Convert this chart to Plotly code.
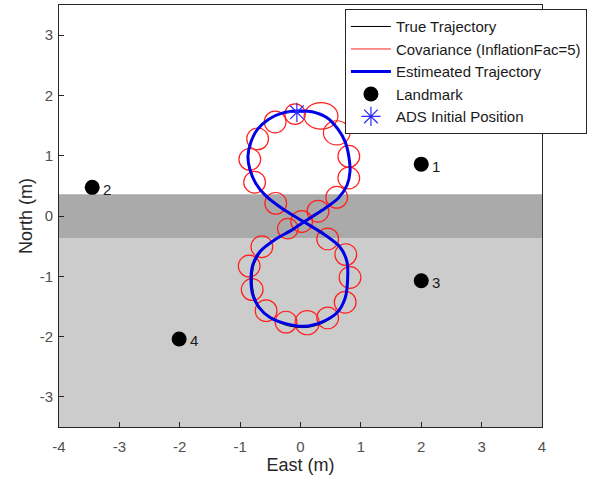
import plotly.graph_objects as go

# ---- data ----
est_x = [-0.06, 0.19, 0.44, 0.62, 0.74, 0.80, 0.82, 0.77, 0.62, 0.35, 0.07, -0.14, -0.42, -0.67,
         -0.79, -0.82, -0.79, -0.69, -0.51, -0.23, 0.07, 0.35, 0.60, 0.74, 0.78, 0.77, 0.65, 0.40,
         0.16, -0.04, -0.31, -0.57, -0.74, -0.84, -0.87, -0.82, -0.71, -0.52, -0.29, -0.06]
est_y = [1.74, 1.73, 1.63, 1.44, 1.23, 0.99, 0.74, 0.51, 0.29, 0.09, -0.09, -0.23, -0.39, -0.59,
         -0.81, -1.06, -1.31, -1.51, -1.68, -1.79, -1.83, -1.76, -1.61, -1.36, -1.06, -0.76, -0.51, -0.31,
         -0.16, -0.04, 0.13, 0.33, 0.54, 0.78, 0.99, 1.23, 1.44, 1.61, 1.71, 1.74]

true_x = [-0.06, 0.19, 0.44, 0.62, 0.74, 0.80, 0.82, 0.77, 0.62, 0.35, 0.07, -0.14, -0.42, -0.65,
          -0.77, -0.80, -0.77, -0.67, -0.49, -0.21, 0.09, 0.36, 0.60, 0.74, 0.78, 0.77, 0.65, 0.40,
          0.16, -0.04, -0.31, -0.57, -0.74, -0.84, -0.87, -0.82, -0.71, -0.52, -0.29, -0.06]
true_y = [1.74, 1.73, 1.63, 1.44, 1.23, 0.99, 0.74, 0.51, 0.29, 0.09, -0.09, -0.23, -0.39, -0.59,
          -0.81, -1.06, -1.31, -1.52, -1.70, -1.82, -1.85, -1.78, -1.62, -1.36, -1.06, -0.76, -0.51, -0.31,
          -0.16, -0.04, 0.13, 0.33, 0.54, 0.78, 0.99, 1.23, 1.44, 1.61, 1.71, 1.74]

# covariance ellipses: centre and semi-axes
cov_x = [-0.09, 0.34, -0.42, 0.60, -0.71, 0.80, -0.84, 0.80, -0.76, 0.60, -0.41, 0.29, 0.02, -0.21,
         0.45, -0.64, -0.85, 0.75, -0.80, 0.82, -0.57, 0.74, -0.24, 0.11, 0.45]
cov_y = [1.69, 1.66, 1.56, 1.38, 1.28, 0.99, 0.94, 0.63, 0.56, 0.31, 0.21, 0.08, -0.09, -0.21,
         -0.38, -0.51, -0.83, -0.64, -1.22, -1.02, -1.57, -1.43, -1.76, -1.77, -1.69]
cov_rx = [0.17, 0.28, 0.18, 0.22, 0.18, 0.18, 0.18, 0.18, 0.18, 0.18, 0.18, 0.18, 0.18, 0.17,
          0.18, 0.18, 0.18, 0.18, 0.18, 0.18, 0.18, 0.18, 0.18, 0.20, 0.18]
cov_ry = [0.17, 0.22, 0.18, 0.20, 0.18, 0.18, 0.18, 0.18, 0.18, 0.18, 0.18, 0.18, 0.18, 0.17,
          0.18, 0.18, 0.18, 0.18, 0.18, 0.18, 0.18, 0.18, 0.18, 0.20, 0.18]

lm_x = [2.0, -3.45, 2.0, -2.01]
lm_y = [0.86, 0.475, -1.075, -2.04]
lm_labels = ["1", "2", "3", "4"]

start_x = [-0.06]
start_y = [1.72]

band_dark = [-0.37, 0.36]
band_light = [-3.5, -0.37]

x_ticks = [-4, -3, -2, -1, 0, 1, 2, 3, 4]
x_ticklabels = ["-4", "-3", "-2", "-1", "0", "1", "2", "3", "4"]
y_ticks = [-3, -2, -1, 0, 1, 2, 3]
y_ticklabels = ["-3", "-2", "-1", "0", "1", "2", "3"]

FONT = "Liberation Sans, Arial, sans-serif"

fig = go.Figure()

shapes = []
shapes.append(dict(type="rect", xref="x", yref="y", x0=-4, x1=4, y0=band_light[0], y1=band_light[1],
                   fillcolor="#cccccc", line=dict(width=0), layer="below"))
shapes.append(dict(type="rect", xref="x", yref="y", x0=-4, x1=4, y0=band_dark[0], y1=band_dark[1],
                   fillcolor="#aaaaaa", line=dict(width=0), layer="below"))
for cx, cy, rx, ry in zip(cov_x, cov_y, cov_rx, cov_ry):
    shapes.append(dict(type="circle", xref="x", yref="y", x0=cx - rx, x1=cx + rx, y0=cy - ry, y1=cy + ry,
                       line=dict(color="#ff2020", width=1.2), layer="below"))

fig.add_trace(go.Scatter(x=true_x, y=true_y, mode="lines", name="True Trajectory",
                         line=dict(color="black", width=1, shape="spline", smoothing=0.8)))
fig.add_trace(go.Scatter(x=[None], y=[None], mode="lines", name="Covariance (InflationFac=5)",
                         line=dict(color="#ff2020", width=1)))
fig.add_trace(go.Scatter(x=est_x, y=est_y, mode="lines", name="Estimeated Trajectory",
                         line=dict(color="#0000e6", width=3, shape="spline", smoothing=0.8)))
fig.add_trace(go.Scatter(x=lm_x, y=lm_y, mode="markers", name="Landmark",
                         marker=dict(color="black", size=15)))
fig.add_trace(go.Scatter(x=start_x, y=start_y, mode="markers", name="ADS Initial Position",
                         marker=dict(symbol="asterisk-open", color="#2a2aff", size=16,
                                     line=dict(color="#2a2aff", width=1.2))))

annotations = [dict(x=lx, y=ly, xref="x", yref="y", text=t, showarrow=False, xanchor="left",
                    xshift=9, yshift=-2, font=dict(family=FONT, size=15, color="#1a1a1a"))
               for lx, ly, t in zip(lm_x, lm_y, lm_labels)]

axis_common = dict(showgrid=False, zeroline=False, showline=True, linecolor="#262626", linewidth=1,
                   mirror=True, ticks="inside", ticklen=5, tickcolor="#262626",
                   tickfont=dict(family=FONT, size=15, color="#505050"))

fig.update_layout(
    width=595, height=484,
    margin=dict(l=59, r=53, t=5, b=57),
    paper_bgcolor="white", plot_bgcolor="white",
    shapes=shapes,
    annotations=annotations,
    font=dict(family=FONT, color="#262626"),
    xaxis=dict(range=[-4, 4], tickvals=x_ticks, ticktext=x_ticklabels, ticklabelstandoff=6,
               title=dict(text="East (m)", font=dict(family=FONT, size=18, color="#262626"), standoff=4),
               **axis_common),
    yaxis=dict(range=[-3.5, 3.5], tickvals=y_ticks, ticktext=y_ticklabels, ticklabelstandoff=2,
               title=dict(text="North (m)", font=dict(family=FONT, size=18, color="#262626"), standoff=2),
               **axis_common),
    legend=dict(x=0.592, y=0.99, xanchor="left", yanchor="top", bgcolor="white",
                bordercolor="#262626", borderwidth=1, font=dict(family=FONT, size=15, color="#1a1a1a"),
                tracegroupgap=0, itemwidth=40),
    showlegend=True,
)

fig.write_html("out.html", config={"displayModeBar": False},
               post_script="document.body.style.margin='0';")
